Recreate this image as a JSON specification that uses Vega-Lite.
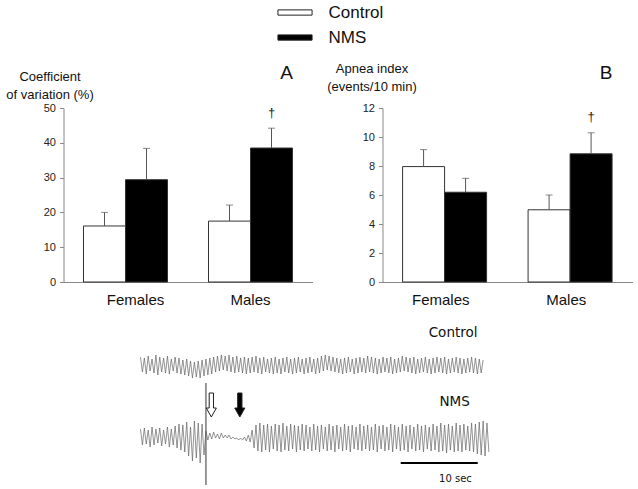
{
  "$schema": "https://vega.github.io/schema/vega-lite/v6.json",
  "background": "white",
  "autosize": {"type": "pad"},
  "padding": {"left": 5.5, "top": 4, "right": 4, "bottom": 2},
  "config": {"view": {"stroke": null}, "font": "Liberation Sans", "axis": {"labelOverlap": false, "labelBound": false, "labelFlush": false}},
  "datasets": {
    "trace": [
      {"t":10.00,"c":128,"n":56},{"t":10.25,"c":113,"n":40},{"t":10.50,"c":127,"n":57},{"t":10.75,"c":111,"n":41},
      {"t":11.00,"c":129,"n":55},{"t":11.25,"c":114,"n":38},{"t":11.50,"c":126,"n":58},{"t":11.75,"c":112,"n":40},
      {"t":12.00,"c":130,"n":56},{"t":12.25,"c":110,"n":42},{"t":12.50,"c":128,"n":57},{"t":12.75,"c":113,"n":39},
      {"t":13.00,"c":127,"n":55},{"t":13.25,"c":112,"n":41},{"t":13.50,"c":129,"n":58},{"t":13.75,"c":111,"n":38},
      {"t":14.00,"c":126,"n":56},{"t":14.25,"c":114,"n":40},{"t":14.50,"c":128,"n":59},{"t":14.75,"c":112,"n":37},
      {"t":15.00,"c":127,"n":61},{"t":15.25,"c":111,"n":35},{"t":15.50,"c":125,"n":60},{"t":15.75,"c":110,"n":33},
      {"t":16.00,"c":126,"n":63},{"t":16.25,"c":109,"n":29},{"t":16.50,"c":124,"n":58},{"t":16.75,"c":107,"n":24},
      {"t":17.00,"c":123,"n":64},{"t":17.25,"c":108,"n":27},{"t":17.50,"c":124,"n":62},{"t":17.75,"c":107,"n":22},
      {"t":18.00,"c":125,"n":61},{"t":18.25,"c":109,"n":30},{"t":18.50,"c":126,"n":54},{"t":18.75,"c":110,"n":45},
      {"t":19.00,"c":127,"n":52},{"t":19.25,"c":111,"n":46},{"t":19.50,"c":128,"n":53},{"t":19.75,"c":113,"n":47},
      {"t":20.00,"c":129,"n":51},{"t":20.25,"c":114,"n":46},{"t":20.50,"c":130,"n":52},{"t":20.75,"c":115,"n":47},
      {"t":21.00,"c":129,"n":50},{"t":21.25,"c":114,"n":47},{"t":21.50,"c":130,"n":50},{"t":21.75,"c":113,"n":46},
      {"t":22.00,"c":128,"n":48},{"t":22.25,"c":112,"n":46},{"t":22.50,"c":129,"n":47},{"t":22.75,"c":113,"n":45},
      {"t":23.00,"c":127,"n":47},{"t":23.25,"c":112,"n":45},{"t":23.50,"c":128,"n":48},{"t":23.75,"c":111,"n":44},
      {"t":24.00,"c":127,"n":50},{"t":24.25,"c":112,"n":43},{"t":24.50,"c":128,"n":55},{"t":24.75,"c":113,"n":37},
      {"t":25.00,"c":129,"n":60},{"t":25.25,"c":112,"n":34},{"t":25.50,"c":127,"n":62},{"t":25.75,"c":111,"n":33},
      {"t":26.00,"c":128,"n":60},{"t":26.25,"c":113,"n":35},{"t":26.50,"c":126,"n":61},{"t":26.75,"c":112,"n":33},
      {"t":27.00,"c":127,"n":59},{"t":27.25,"c":111,"n":36},{"t":27.50,"c":128,"n":61},{"t":27.75,"c":112,"n":34},
      {"t":28.00,"c":126,"n":60},{"t":28.25,"c":111,"n":33},{"t":28.50,"c":127,"n":62},{"t":28.75,"c":113,"n":35},
      {"t":29.00,"c":128,"n":59},{"t":29.25,"c":112,"n":34},{"t":29.50,"c":126,"n":61},{"t":29.75,"c":111,"n":36},
      {"t":30.00,"c":127,"n":60},{"t":30.25,"c":112,"n":33},{"t":30.50,"c":128,"n":59},{"t":30.75,"c":113,"n":35},
      {"t":31.00,"c":126,"n":61},{"t":31.25,"c":111,"n":34},{"t":31.50,"c":127,"n":60},{"t":31.75,"c":112,"n":36},
      {"t":32.00,"c":128,"n":58},{"t":32.25,"c":113,"n":34},{"t":32.50,"c":126,"n":61},{"t":32.75,"c":111,"n":35},
      {"t":33.00,"c":127,"n":59},{"t":33.25,"c":112,"n":33},{"t":33.50,"c":129,"n":60},{"t":33.75,"c":114,"n":36},
      {"t":34.00,"c":130,"n":58},{"t":34.25,"c":115,"n":34},{"t":34.50,"c":129,"n":61},{"t":34.75,"c":114,"n":35},
      {"t":35.00,"c":128,"n":59},{"t":35.25,"c":113,"n":33},{"t":35.50,"c":127,"n":60},{"t":35.75,"c":112,"n":36},
      {"t":36.00,"c":126,"n":58},{"t":36.25,"c":111,"n":34},{"t":36.50,"c":127,"n":61},{"t":36.75,"c":112,"n":35},
      {"t":37.00,"c":128,"n":59},{"t":37.25,"c":113,"n":33},{"t":37.50,"c":126,"n":60},{"t":37.75,"c":111,"n":36},
      {"t":38.00,"c":127,"n":58},{"t":38.25,"c":112,"n":35},{"t":38.50,"c":128,"n":61},{"t":38.75,"c":113,"n":34},
      {"t":39.00,"c":127,"n":59},{"t":39.25,"c":112,"n":36},{"t":39.50,"c":129,"n":60},{"t":39.75,"c":113,"n":34},
      {"t":40.00,"c":128,"n":58},{"t":40.25,"c":112,"n":35},{"t":40.50,"c":127,"n":61},{"t":40.75,"c":111,"n":33},
      {"t":41.00,"c":126,"n":59},{"t":41.25,"c":112,"n":36},{"t":41.50,"c":128,"n":60},{"t":41.75,"c":113,"n":34},
      {"t":42.00,"c":127,"n":58},{"t":42.25,"c":112,"n":35},{"t":42.50,"c":128,"n":61},{"t":42.75,"c":111,"n":33},
      {"t":43.00,"c":126,"n":60},{"t":43.25,"c":112,"n":36},{"t":43.50,"c":127,"n":58},{"t":43.75,"c":113,"n":34},
      {"t":44.00,"c":129,"n":61},{"t":44.25,"c":114,"n":35},{"t":44.50,"c":128,"n":59},{"t":44.75,"c":113,"n":33},
      {"t":45.00,"c":127,"n":60},{"t":45.25,"c":112,"n":36},{"t":45.50,"c":128,"n":58},{"t":45.75,"c":111,"n":34},
      {"t":46.00,"c":126,"n":61},{"t":46.25,"c":112,"n":35},{"t":46.50,"c":127,"n":59},{"t":46.75,"c":113,"n":33},
      {"t":47.00,"c":128,"n":60},{"t":47.25,"c":112,"n":36},{"t":47.50,"c":126,"n":58},{"t":47.75,"c":111,"n":34},
      {"t":48.00,"c":127,"n":61},{"t":48.25,"c":112,"n":35},{"t":48.50,"c":128,"n":59},{"t":48.75,"c":113,"n":33},
      {"t":49.00,"c":127,"n":62},{"t":49.25,"c":112,"n":34},{"t":49.50,"c":128,"n":60},{"t":49.75,"c":111,"n":32},
      {"t":50.00,"c":126,"n":61},{"t":50.25,"c":112,"n":35},{"t":50.50,"c":127,"n":59},{"t":50.75,"c":113,"n":33},
      {"t":51.00,"c":128,"n":62},{"t":51.25,"c":112,"n":34},{"t":51.50,"c":127,"n":60},{"t":51.75,"c":111,"n":33},
      {"t":52.00,"c":126,"n":61},{"t":52.25,"c":112,"n":35},{"t":52.50,"c":127,"n":59},{"t":52.75,"c":113,"n":34},
      {"t":53.00,"c":128,"n":62},{"t":53.25,"c":112,"n":33},{"t":53.50,"c":127,"n":61},{"t":53.75,"c":111,"n":31},
      {"t":54.00,"c":126,"n":63},{"t":54.25,"c":112,"n":30},{"t":54.50,"c":125,"n":64},{"t":54.75,"n":29},
      {"t":55.00,"n":62},{"t":55.25,"n":33}
    ]
  },
  "spacing": 13,
  "bounds": "full",
  "vconcat": [
    {
      "spacing": 70,
      "bounds": "flush",
      "resolve": {"scale": {"color": "independent"}, "legend": {"color": "independent"}},
      "hconcat": [
        {
          "width": 249,
          "height": 174,
          "data": {"values": [
            {"sex": "Females", "group": "Control", "v": 16.1, "hi": 20.0},
            {"sex": "Females", "group": "NMS", "v": 29.4, "hi": 38.4},
            {"sex": "Males", "group": "Control", "v": 17.5, "hi": 22.1},
            {"sex": "Males", "group": "NMS", "v": 38.5, "hi": 44.2}
          ]},
          "encoding": {
            "x": {"field": "sex", "type": "nominal", "sort": ["Females", "Males"],
              "scale": {"paddingInner": 0.328, "paddingOuter": 0.16},
              "axis": {"title": null, "labelAngle": 0, "ticks": false, "labelFontSize": 15, "labelPadding": 10,
                "labelColor": "#111", "domainColor": "#888", "labelOffset": {"expr": "datum.value == 'Females' ? 10 : 0"}}},
            "xOffset": {"field": "group", "type": "nominal", "scale": {"domain": ["Control", "NMS"], "paddingInner": 0, "paddingOuter": 0}}
          },
          "layer": [
            {
              "mark": {"type": "bar", "stroke": "#333", "strokeWidth": 1},
              "encoding": {
                "y": {"field": "v", "type": "quantitative", "scale": {"domain": [0, 50], "nice": false},
                  "axis": {"title": ["Coefficient", "of variation (%)"], "titleAngle": 0, "titleAlign": "center",
                    "titleBaseline": "alphabetic", "titleX": -14, "titleY": -28, "titleFontSize": 13,
                    "titleFontWeight": "normal", "titleColor": "#111", "titleLineHeight": 18,
                    "values": [0, 10, 20, 30, 40, 50], "tickCount": 6, "labelOverlap": false, "tickSize": 4, "labelFontSize": 11, "labelPadding": 4,
                    "grid": false, "domainColor": "#888", "tickColor": "#888", "labelColor": "#222"}},
                "color": {"field": "group", "type": "nominal",
                  "scale": {"domain": ["Control", "NMS"], "range": ["#ffffff", "#000000"]},
                  "legend": {"title": null, "orient": "none", "legendX": 223, "legendY": -104, "padding": 0,
                    "symbolType": "M-4.875,-0.75H4.875V0.75H-4.875Z", "symbolSize": 49, "symbolStrokeColor": "#222",
                    "symbolStrokeWidth": 1, "labelFontSize": 17, "labelColor": "#111", "labelOffset": 25, "rowPadding": 7}}
              }
            },
            {
              "mark": {"type": "rule", "color": "#555", "strokeWidth": 1},
              "encoding": {"y": {"field": "v", "type": "quantitative",
                  "axis": {"title": ["Coefficient", "of variation (%)"], "titleAngle": 0, "titleAlign": "center",
                    "titleBaseline": "alphabetic", "titleX": -14, "titleY": -28, "titleFontSize": 13,
                    "titleFontWeight": "normal", "titleColor": "#111", "titleLineHeight": 18,
                    "values": [0, 10, 20, 30, 40, 50], "tickCount": 6, "labelOverlap": false, "tickSize": 4, "labelFontSize": 11, "labelPadding": 4,
                    "grid": false, "domainColor": "#888", "tickColor": "#888", "labelColor": "#222"}},
                "y2": {"field": "hi"}}
            },
            {
              "mark": {"type": "tick", "color": "#555", "size": 7, "thickness": 1},
              "encoding": {"y": {"field": "hi", "type": "quantitative",
                  "axis": {"title": ["Coefficient", "of variation (%)"], "titleAngle": 0, "titleAlign": "center",
                    "titleBaseline": "alphabetic", "titleX": -14, "titleY": -28, "titleFontSize": 13,
                    "titleFontWeight": "normal", "titleColor": "#111", "titleLineHeight": 18,
                    "values": [0, 10, 20, 30, 40, 50], "tickCount": 6, "labelOverlap": false, "tickSize": 4, "labelFontSize": 11, "labelPadding": 4,
                    "grid": false, "domainColor": "#888", "tickColor": "#888", "labelColor": "#222"}}}
            },
            {
              "transform": [{"filter": "datum.sex == 'Males' && datum.group == 'NMS'"}],
              "mark": {"type": "text", "text": "†", "fontSize": 13, "baseline": "middle", "color": "#222"},
              "encoding": {"y": {"datum": 48.6, "type": "quantitative"}}
            },
            {
              "transform": [{"filter": "datum.sex == 'Males' && datum.group == 'NMS'"}],
              "mark": {"type": "text", "text": "A", "fontSize": 19, "baseline": "middle", "dx": 15, "color": "#111"},
              "encoding": {"y": {"datum": 60.1, "type": "quantitative"}}
            }
          ]
        },
        {
          "width": 250,
          "height": 174,
          "data": {"values": [
            {"sex": "Females", "group": "Control", "v": 7.96, "hi": 9.13},
            {"sex": "Females", "group": "NMS", "v": 6.19, "hi": 7.15},
            {"sex": "Males", "group": "Control", "v": 4.98, "hi": 6.0},
            {"sex": "Males", "group": "NMS", "v": 8.84, "hi": 10.29}
          ]},
          "encoding": {
            "x": {"field": "sex", "type": "nominal", "sort": ["Females", "Males"],
              "scale": {"paddingInner": 0.328, "paddingOuter": 0.16},
              "axis": {"title": null, "labelAngle": 0, "ticks": false, "labelFontSize": 15, "labelPadding": 10,
                "labelColor": "#111", "domainColor": "#888", "labelOffset": -4}},
            "xOffset": {"field": "group", "type": "nominal", "scale": {"domain": ["Control", "NMS"], "paddingInner": 0, "paddingOuter": 0}}
          },
          "layer": [
            {
              "mark": {"type": "bar", "stroke": "#333", "strokeWidth": 1},
              "encoding": {
                "y": {"field": "v", "type": "quantitative", "scale": {"domain": [0, 12], "nice": false},
                  "axis": {"title": ["Apnea index", "(events/10 min)"], "titleAngle": 0, "titleAlign": "center",
                    "titleBaseline": "alphabetic", "titleX": -11, "titleY": -36, "titleFontSize": 13,
                    "titleFontWeight": "normal", "titleColor": "#111", "titleLineHeight": 18,
                    "values": [0, 2, 4, 6, 8, 10, 12], "tickCount": 7, "labelOverlap": false, "tickSize": 4, "labelFontSize": 11, "labelPadding": 4,
                    "grid": false, "domainColor": "#888", "tickColor": "#888", "labelColor": "#222"}},
                "color": {"field": "group", "type": "nominal",
                  "scale": {"domain": ["Control", "NMS"], "range": ["#ffffff", "#000000"]}, "legend": null}
              }
            },
            {
              "mark": {"type": "rule", "color": "#555", "strokeWidth": 1},
              "encoding": {"y": {"field": "v", "type": "quantitative",
                  "axis": {"title": ["Apnea index", "(events/10 min)"], "titleAngle": 0, "titleAlign": "center",
                    "titleBaseline": "alphabetic", "titleX": -11, "titleY": -36, "titleFontSize": 13,
                    "titleFontWeight": "normal", "titleColor": "#111", "titleLineHeight": 18,
                    "values": [0, 2, 4, 6, 8, 10, 12], "tickCount": 7, "labelOverlap": false, "tickSize": 4, "labelFontSize": 11, "labelPadding": 4,
                    "grid": false, "domainColor": "#888", "tickColor": "#888", "labelColor": "#222"}},
                "y2": {"field": "hi"}}
            },
            {
              "mark": {"type": "tick", "color": "#555", "size": 7, "thickness": 1},
              "encoding": {"y": {"field": "hi", "type": "quantitative",
                  "axis": {"title": ["Apnea index", "(events/10 min)"], "titleAngle": 0, "titleAlign": "center",
                    "titleBaseline": "alphabetic", "titleX": -11, "titleY": -36, "titleFontSize": 13,
                    "titleFontWeight": "normal", "titleColor": "#111", "titleLineHeight": 18,
                    "values": [0, 2, 4, 6, 8, 10, 12], "tickCount": 7, "labelOverlap": false, "tickSize": 4, "labelFontSize": 11, "labelPadding": 4,
                    "grid": false, "domainColor": "#888", "tickColor": "#888", "labelColor": "#222"}}}
            },
            {
              "transform": [{"filter": "datum.sex == 'Males' && datum.group == 'NMS'"}],
              "mark": {"type": "text", "text": "†", "fontSize": 13, "baseline": "middle", "color": "#222"},
              "encoding": {"y": {"datum": 11.4, "type": "quantitative"}}
            },
            {
              "transform": [{"filter": "datum.sex == 'Males' && datum.group == 'NMS'"}],
              "mark": {"type": "text", "text": "B", "fontSize": 19, "baseline": "middle", "dx": 15, "color": "#111"},
              "encoding": {"y": {"datum": 14.38, "type": "quantitative"}}
            }
          ]
        }
      ]
    },
    {
      "width": 569,
      "height": 165,
      "layer": [
        {
          "data": {"name": "trace"},
          "mark": {"type": "line", "color": "#666", "strokeWidth": 0.7},
          "encoding": {
            "x": {"field": "t", "type": "quantitative", "scale": {"domain": [0, 73.9], "nice": false, "zero": false}, "axis": null},
            "y": {"field": "c", "type": "quantitative", "scale": {"domain": [0, 165], "nice": false}, "axis": null}
          }
        },
        {
          "data": {"name": "trace"},
          "mark": {"type": "line", "color": "#666", "strokeWidth": 0.7},
          "encoding": {
            "x": {"field": "t", "type": "quantitative"},
            "y": {"field": "n", "type": "quantitative"}
          }
        },
        {
          "data": {"values": [{"t": 18.5, "y1": 0, "y2": 102}]},
          "mark": {"type": "rule", "color": "#555", "strokeWidth": 1.2},
          "encoding": {"x": {"field": "t", "type": "quantitative"}, "y": {"field": "y1", "type": "quantitative"}, "y2": {"field": "y2"}}
        },
        {
          "data": {"values": [{"t1": 43.8, "t2": 53.8, "y": 22}]},
          "mark": {"type": "rule", "color": "#000", "strokeWidth": 2},
          "encoding": {"x": {"field": "t1", "type": "quantitative"}, "x2": {"field": "t2"}, "y": {"field": "y", "type": "quantitative"}}
        },
        {
          "data": {"values": [{"t": 19.2, "y": 80, "kind": "open"}, {"t": 22.9, "y": 80, "kind": "solid"}]},
          "mark": {"type": "point", "filled": true, "shape": "M-0.18,-1H0.18V0.25H0.42L0,1L-0.42,0.25H-0.18Z", "size": 576, "stroke": "#222", "strokeWidth": 1, "opacity": 1},
          "encoding": {
            "x": {"field": "t", "type": "quantitative"},
            "y": {"field": "y", "type": "quantitative"},
            "fill": {"field": "kind", "type": "nominal", "scale": {"domain": ["open", "solid"], "range": ["#ffffff", "#000000"]}, "legend": null}
          }
        },
        {
          "data": {"values": [{"t": 50.6, "y": 152, "txt": "Control"}, {"t": 50.8, "y": 83, "txt": "NMS"}]},
          "mark": {"type": "text", "font": "DejaVu Sans", "fontSize": 13.5, "baseline": "middle", "align": "center", "color": "#111"},
          "encoding": {"x": {"field": "t", "type": "quantitative"}, "y": {"field": "y", "type": "quantitative"}, "text": {"field": "txt"}}
        },
        {
          "data": {"values": [{"t": 50.9, "y": 6, "txt": "10 sec"}]},
          "mark": {"type": "text", "font": "DejaVu Sans", "fontSize": 10, "baseline": "middle", "align": "center", "color": "#111"},
          "encoding": {"x": {"field": "t", "type": "quantitative"}, "y": {"field": "y", "type": "quantitative"}, "text": {"field": "txt"}}
        }
      ]
    }
  ]
}
